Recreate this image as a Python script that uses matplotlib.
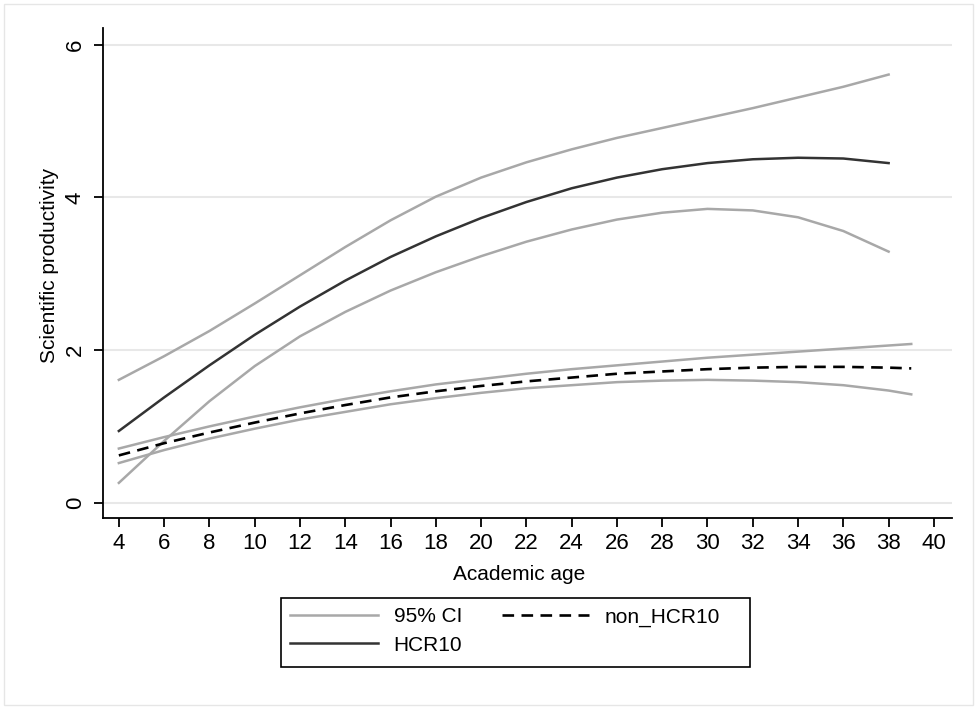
import matplotlib
matplotlib.use("Agg")
import matplotlib.pyplot as plt
from matplotlib.patches import Rectangle
from matplotlib.lines import Line2D

plt.rcParams['font.family'] = ['Liberation Sans', 'DejaVu Sans']

# Data
age_hcr = [4, 6, 8, 10, 12, 14, 16, 18, 20, 22, 24, 26, 28, 30, 32, 34, 36, 38]
hcr10 = [0.94, 1.38, 1.80, 2.20, 2.57, 2.91, 3.22, 3.49, 3.73, 3.94, 4.12, 4.26, 4.37, 4.45, 4.50, 4.52, 4.51, 4.45]
hcr10_hi = [1.61, 1.92, 2.25, 2.61, 2.98, 3.35, 3.70, 4.01, 4.26, 4.46, 4.63, 4.78, 4.91, 5.04, 5.17, 5.31, 5.45, 5.61]
hcr10_lo = [0.26, 0.81, 1.33, 1.79, 2.18, 2.50, 2.78, 3.02, 3.23, 3.42, 3.58, 3.71, 3.80, 3.85, 3.83, 3.74, 3.56, 3.29]

age_non = [4, 6, 8, 10, 12, 14, 16, 18, 20, 22, 24, 26, 28, 30, 32, 34, 36, 38, 39]
non_hcr10 = [0.62, 0.78, 0.92, 1.05, 1.17, 1.28, 1.38, 1.46, 1.53, 1.59, 1.64, 1.69, 1.72, 1.75, 1.77, 1.78, 1.78, 1.77, 1.76]
non_hi = [0.71, 0.86, 1.00, 1.13, 1.25, 1.36, 1.46, 1.55, 1.62, 1.69, 1.75, 1.80, 1.85, 1.90, 1.94, 1.98, 2.02, 2.06, 2.08]
non_lo = [0.52, 0.69, 0.84, 0.97, 1.09, 1.19, 1.29, 1.37, 1.44, 1.50, 1.54, 1.58, 1.60, 1.61, 1.60, 1.58, 1.54, 1.47, 1.42]

x_ticks = list(range(4, 41, 2))
y_ticks = [0, 2, 4, 6]

W, H = 977, 709
fig = plt.figure(figsize=(W / 100, H / 100), dpi=100)
fig.patch.set_facecolor('white')
fig.patches.append(Rectangle((4 / W, 4 / H), 1 - 8 / W, 1 - 8 / H, transform=fig.transFigure,
                             fill=False, edgecolor='#e6e6e6', linewidth=1.0))

ax = fig.add_axes([103 / W, 1 - 518 / H, (952 - 103) / W, (518 - 28) / H])

ci_col = '#a8a8a8'
dark_col = '#333333'
dash_style = (0, (4.4, 2.8))
ax.plot(age_hcr, hcr10_hi, color=ci_col, lw=1.8)
ax.plot(age_hcr, hcr10_lo, color=ci_col, lw=1.8)
ax.plot(age_non, non_hi, color=ci_col, lw=1.8)
ax.plot(age_non, non_lo, color=ci_col, lw=1.8)
ax.plot(age_hcr, hcr10, color=dark_col, lw=1.8)
ax.plot(age_non, non_hcr10, color='black', lw=1.9, ls=dash_style)

ax.set_xlim(3.3, 40.8)
ax.set_ylim(-0.2, 6.22)
ax.set_xticks(x_ticks)
ax.set_yticks(y_ticks)
ax.grid(axis='y', color='#e8e8e8', lw=1.5)
ax.set_axisbelow(True)
for s in ['top', 'right']:
    ax.spines[s].set_visible(False)
for s in ['left', 'bottom']:
    ax.spines[s].set_linewidth(1.3)
ax.tick_params(axis='both', direction='out', length=6.5, width=1.3, labelsize=16)
ax.tick_params(axis='x', pad=4)
ax.tick_params(axis='y', pad=6)
for lab in ax.get_yticklabels():
    lab.set_rotation(90)
    lab.set_va('center')

fig.text(519 / W, 1 - 575 / H, 'Academic age', fontsize=15, ha='center', va='center')
fig.text(50 / W, 1 - 265 / H, 'Scientific productivity', fontsize=15, ha='center', va='center',
         rotation=90)

# Legend
handles = [Line2D([], [], color=ci_col, lw=1.8),
           Line2D([], [], color=dark_col, lw=1.8),
           Line2D([], [], color='black', lw=1.9, ls=dash_style)]
labels = ['95% CI', 'HCR10', 'non_HCR10']
leg = fig.legend(handles, labels, loc='upper left', bbox_to_anchor=(281 / W, 1 - 598 / H), ncol=2,
                 fontsize=15, frameon=False,
                 handlelength=4.2, handletextpad=0.75, columnspacing=1.9,
                 borderpad=0.45, labelspacing=0.45, borderaxespad=0)
fig.patches.append(Rectangle((281 / W, 1 - 667 / H), (750 - 281) / W, (667 - 598) / H,
                             transform=fig.transFigure, fill=False, edgecolor='black', linewidth=1.2))

fig.savefig('out.png', dpi=100, facecolor='white')
